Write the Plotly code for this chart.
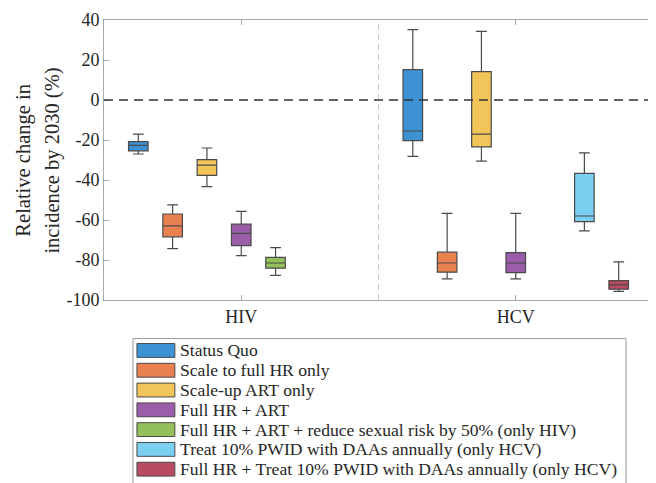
import plotly.graph_objects as go

categories = ["HIV", "HCV"]
scenarios = [
    "Status Quo",
    "Scale to full HR only",
    "Scale-up ART only",
    "Full HR + ART",
    "Full HR + ART + reduce sexual risk by 50% (only HIV)",
    "Treat 10% PWID with DAAs annually (only HCV)",
    "Full HR + Treat 10% PWID with DAAs annually (only HCV)",
]
colors = ["#3d92d3", "#e8804f", "#f2c55a", "#9b5ca9", "#93c05a", "#7bcff1", "#b84a62"]

# per scenario: which categories, and box stats (lower whisker, q1, median, q3, upper whisker)
cats = [["HIV", "HCV"], ["HIV", "HCV"], ["HIV", "HCV"], ["HIV", "HCV"], ["HIV"], ["HCV"], ["HCV"]]
lower = [[-27.0, -28.2], [-74.3, -89.4], [-43.3, -30.6], [-77.8, -89.4], [-87.7], [-65.4], [-95.7]]
q1 = [[-25.4, -20.3], [-68.4, -86.1], [-37.7, -23.4], [-72.8, -86.3], [-84.1], [-60.8], [-94.6]]
median = [[-22.7, -15.5], [-62.9, -81.5], [-32.6, -17.1], [-66.7, -81.5], [-81.5], [-58.0], [-92.4]]
q3 = [[-20.8, 15.2], [-57.0, -76.1], [-29.8, 14.2], [-62.1, -76.3], [-78.7], [-36.7], [-90.3]]
upper = [[-17.1, 35.2], [-52.4, -56.7], [-24.0, 34.3], [-55.7, -56.7], [-73.8], [-26.4], [-80.9]]

ytick_vals = [40, 20, 0, -20, -40, -60, -80, -100]
ytick_text = ["40", "20", "0", "-20", "-40", "-60", "-80", "-100"]
ytitle_lines = ["Relative change in", "incidence by 2030 (%)"]

FONT = "'Liberation Serif', 'Times New Roman', 'DejaVu Serif', serif"
TXT = "#262626"
OFF = 8  # page body margin
W, H = 656 - OFF, 483 - OFF
L, R, T, B = 104 - OFF, 2, 17 - OFF, 183

fig = go.Figure()
for i, name in enumerate(scenarios):
    fig.add_trace(go.Box(
        name=name, x=cats[i], q1=q1[i], median=median[i], q3=q3[i],
        lowerfence=lower[i], upperfence=upper[i],
        fillcolor=colors[i], line=dict(color="#4a4a4a", width=1.2),
        whiskerwidth=0.55, boxpoints=False, showlegend=False,
    ))

pw = W - L - R
ph = H - T - B
def px2x(px):
    return (px - OFF - L) / pw
def py2y(py):
    return (H - B - (py - OFF)) / ph

shapes = [
    dict(type="line", xref="paper", yref="y", x0=0, x1=1, y0=0, y1=0,
         line=dict(color="#333333", width=1.5, dash="9px,6px"), layer="above"),
    dict(type="line", xref="x", yref="paper", x0=0.5, x1=0.5, y0=0, y1=1,
         line=dict(color="#c8c8c8", width=1, dash="6px,4px"), layer="below"),
    # legend frame
    dict(type="rect", xref="paper", yref="paper", x0=px2x(133), x1=px2x(627),
         y0=py2y(495), y1=py2y(339), line=dict(color="#9a9a9a", width=1),
         fillcolor="white", layer="above"),
]
annotations = []
for i, name in enumerate(scenarios):
    cy = 351 + 20 * i
    shapes.append(dict(type="rect", xref="paper", yref="paper",
                       x0=px2x(137), x1=px2x(175), y0=py2y(cy + 7), y1=py2y(cy - 7),
                       fillcolor=colors[i], line=dict(color="#4a4a4a", width=1), layer="above"))
    annotations.append(dict(xref="paper", yref="paper", x=px2x(178), y=py2y(cy),
                            text=name, showarrow=False, xanchor="left", yanchor="middle",
                            font=dict(family=FONT, size=17.6, color=TXT)))
for j, line in enumerate(ytitle_lines):
    annotations.append(dict(xref="paper", yref="paper", x=px2x(23 + 29 * j), y=py2y(159),
                            text=line, textangle=-90, showarrow=False,
                            xanchor="center", yanchor="middle",
                            font=dict(family=FONT, size=20.5, color=TXT)))

fig.update_layout(
    width=W, height=H, margin=dict(l=L, r=R, t=T, b=B),
    paper_bgcolor="white", plot_bgcolor="white",
    boxmode="group", boxgap=0.125, boxgroupgap=0.43,
    font=dict(family=FONT, size=18, color=TXT),
    shapes=shapes, annotations=annotations,
)
fig.update_xaxes(categoryorder="array", categoryarray=categories, range=[-0.5, 1.5],
                 showline=True, mirror="ticks", linecolor="#a8a8a8", linewidth=1,
                 ticks="inside", ticklen=5, tickcolor="#a8a8a8", showgrid=False,
                 tickfont=dict(family=FONT, size=18, color=TXT))
fig.update_yaxes(range=[-100, 40], tickvals=ytick_vals, ticktext=ytick_text,
                 showline=True, mirror="ticks", linecolor="#a8a8a8", linewidth=1,
                 ticks="inside", ticklen=5, tickcolor="#a8a8a8", showgrid=False,
                 zeroline=False, ticklabeloverflow="allow",
                 tickfont=dict(family=FONT, size=18, color=TXT))

fig.write_html("out.html")
